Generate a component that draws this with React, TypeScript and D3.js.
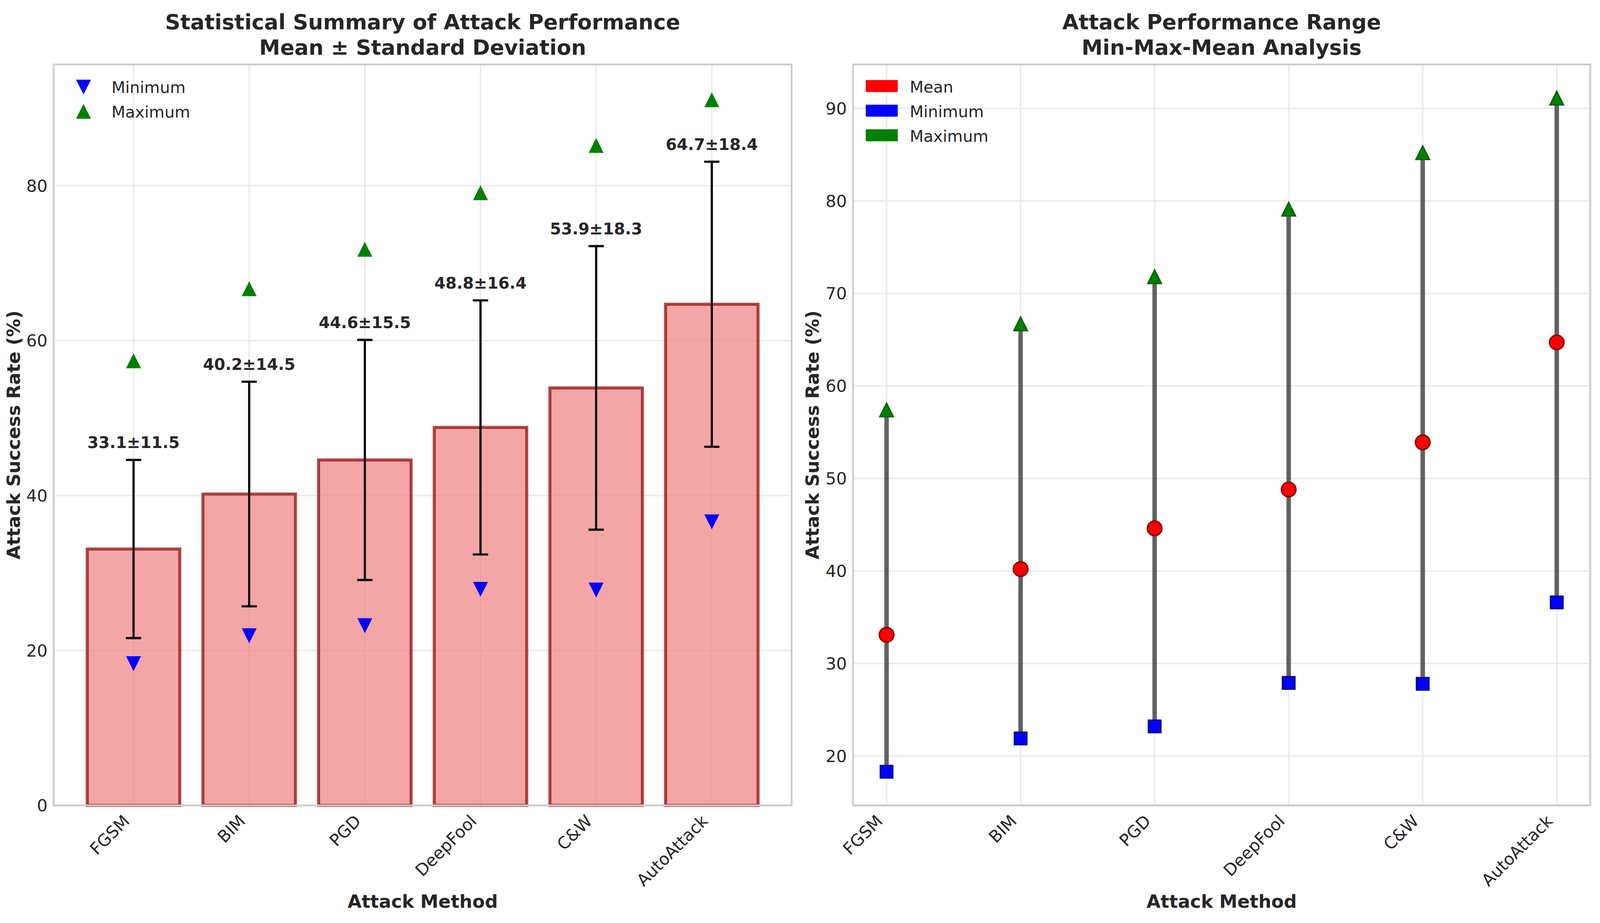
import { useEffect, useState } from 'react';
import * as d3 from 'd3';

const categories = ['FGSM', 'BIM', 'PGD', 'DeepFool', 'C&W', 'AutoAttack'];
const means = [33.1, 40.2, 44.6, 48.8, 53.9, 64.7];
const stds = [11.5, 14.5, 15.5, 16.4, 18.3, 18.4];
const mins = [18.3, 21.9, 23.2, 27.9, 27.8, 36.6];
const maxs = [57.4, 66.7, 71.8, 79.1, 85.2, 91.1];
const leftTicks = [0, 20, 40, 60, 80];
const rightTicks = [20, 30, 40, 50, 60, 70, 80, 90];

// reference layout (px of a 4764x2363 figure), scaled to the real viewport
const W = 4764;
const H = 2363;
const FONT = 'DejaVu Sans, sans-serif';
const TXT = '#262626';
const GRID = '#ebebeb';
const SPINE = '#cccccc';

interface Frame {
  sx: number;
  sy: number;
  k: number;
}

function triUp(cx: number, cy: number, s: number) {
  return `M${cx},${cy - s / 2}L${cx + s / 2},${cy + s / 2}L${cx - s / 2},${cy + s / 2}Z`;
}
function triDown(cx: number, cy: number, s: number) {
  return `M${cx},${cy + s / 2}L${cx + s / 2},${cy - s / 2}L${cx - s / 2},${cy - s / 2}Z`;
}

function Panel({ f, kind }: { f: Frame; kind: 'bar' | 'range' }) {
  const { sx, sy, k } = f;
  const X = (v: number) => v * sx;
  const Y = (v: number) => v * sy;
  const top = Y(165);
  const bottom = Y(2062);
  const left = X(kind === 'bar' ? 160 : 2540);
  const right = X(kind === 'bar' ? 2357 : 4735);
  const mid = (left + right) / 2;

  let xs: number[];
  let y: d3.ScaleLinear<number, number>;
  let ticks: number[];
  let band = 0;
  let xBand: d3.ScaleBand<string> | null = null;

  if (kind === 'bar') {
    xBand = d3.scaleBand<string>().domain(categories).range([left, right]).paddingInner(0.2).paddingOuter(0.29);
    band = xBand.bandwidth();
    xs = categories.map((c) => (xBand!(c) ?? 0) + band / 2);
    y = d3.scaleLinear().domain([0, d3.max(maxs)! * 1.05]).range([bottom, top]);
    ticks = leftTicks;
  } else {
    const lo = d3.min(mins)!;
    const hi = d3.max(maxs)!;
    const pad = (hi - lo) * 0.05;
    const xp = d3.scalePoint<string>().domain(categories).range([left, right]).padding(0.25);
    xs = categories.map((c) => xp(c) ?? 0);
    y = d3.scaleLinear().domain([lo - pad, hi + pad]).range([bottom, top]);
    ticks = rightTicks;
  }

  const gridW = 4 * k;
  const titles =
    kind === 'bar'
      ? ['Statistical Summary of Attack Performance', 'Mean ± Standard Deviation']
      : ['Attack Performance Range', 'Min-Max-Mean Analysis'];
  const yLabelX = kind === 'bar' ? X(160) - 93 * k : X(2540) - 94 * k;

  return (
    <g>
      {/* grid */}
      {ticks.map((t) => (
        <line key={t} x1={left} x2={right} y1={y(t)} y2={y(t)} stroke={GRID} strokeWidth={gridW} />
      ))}
      {xs.map((x, i) => (
        <line key={i} x1={x} x2={x} y1={top} y2={bottom} stroke={GRID} strokeWidth={gridW} />
      ))}

      {kind === 'bar' && xBand && (
        <g>
          {categories.map((c, i) => (
            <rect
              key={c}
              x={xBand!(c)}
              y={y(means[i])}
              width={band}
              height={y(0) - y(means[i])}
              fill="#F08080"
              fillOpacity={0.7}
              stroke="#8B0000"
              strokeOpacity={0.7}
              strokeWidth={8.3 * k}
            />
          ))}
          {categories.map((c, i) => {
            const x = xs[i];
            const y1 = y(means[i] - stds[i]);
            const y2 = y(means[i] + stds[i]);
            const cap = 21 * k;
            return (
              <g key={c} stroke="#000" strokeWidth={6 * k}>
                <line x1={x} x2={x} y1={y1} y2={y2} />
                <line x1={x - cap} x2={x + cap} y1={y1} y2={y1} />
                <line x1={x - cap} x2={x + cap} y1={y2} y2={y2} />
              </g>
            );
          })}
          {categories.map((c, i) => (
            <g key={c}>
              <path d={triDown(xs[i], y(mins[i]), 41 * k)} fill="#0000ff" />
              <path d={triUp(xs[i], y(maxs[i]), 41 * k)} fill="#008000" />
            </g>
          ))}
          {categories.map((c, i) => (
            <text
              key={c}
              x={xs[i]}
              y={y(means[i] + stds[i] + 1) - 11 * k}
              textAnchor="middle"
              fontSize={44 * k}
              fontWeight="bold"
              fill={TXT}
            >
              {`${means[i].toFixed(1)}±${stds[i].toFixed(1)}`}
            </text>
          ))}
        </g>
      )}

      {kind === 'range' && (
        <g>
          {categories.map((c, i) => (
            <line
              key={c}
              x1={xs[i]}
              x2={xs[i]}
              y1={y(mins[i])}
              y2={y(maxs[i])}
              stroke="#000"
              strokeOpacity={0.6}
              strokeWidth={12.5 * k}
            />
          ))}
          {categories.map((c, i) => (
            <g key={c}>
              <rect
                x={xs[i] - 17 * k}
                y={y(mins[i]) - 17 * k}
                width={34 * k}
                height={34 * k}
                fill="#0000ff"
                stroke="#00008B"
                strokeWidth={4 * k}
              />
              <path d={triUp(xs[i], y(maxs[i]), 37 * k)} fill="#008000" stroke="#006400" strokeWidth={4 * k} />
              <circle cx={xs[i]} cy={y(means[i])} r={20 * k} fill="#ff0000" stroke="#8B0000" strokeWidth={4 * k} />
            </g>
          ))}
        </g>
      )}

      {/* frame */}
      <rect x={left} y={top} width={right - left} height={bottom - top} fill="none" stroke={SPINE} strokeWidth={5 * k} />

      {/* y ticks */}
      {ticks.map((t) => (
        <text key={t} x={left - 17 * k} y={y(t)} dy="0.36em" textAnchor="end" fontSize={46 * k} fill={TXT}>
          {t}
        </text>
      ))}
      {/* x ticks */}
      {categories.map((c, i) => (
        <text
          key={c}
          transform={`translate(${xs[i] - 8 * k},${bottom + 46 * k}) rotate(-45)`}
          textAnchor="end"
          fontSize={46 * k}
          fill={TXT}
        >
          {c}
        </text>
      ))}

      {/* legend */}
      {kind === 'bar' ? (
        <g>
          <path d={triDown(left + 82 * k, Y(223), 41 * k)} fill="#0000ff" />
          <text x={left + 159 * k} y={Y(238)} fontSize={44 * k} fill={TXT}>Minimum</text>
          <path d={triUp(left + 82 * k, Y(285), 41 * k)} fill="#008000" />
          <text x={left + 159 * k} y={Y(301)} fontSize={44 * k} fill={TXT}>Maximum</text>
        </g>
      ) : (
        <g>
          {[
            { label: 'Mean', color: '#ff0000' },
            { label: 'Minimum', color: '#0000ff' },
            { label: 'Maximum', color: '#008000' },
          ].map((d, i) => (
            <g key={d.label}>
              <rect x={left + 35 * k} y={Y(205 + i * 63)} width={88 * k} height={33 * k} fill={d.color} />
              <text x={left + 156 * k} y={Y(237 + i * 63)} fontSize={44 * k} fill={TXT}>
                {d.label}
              </text>
            </g>
          ))}
        </g>
      )}

      {/* titles and axis labels */}
      <text x={mid} y={Y(75)} textAnchor="middle" fontSize={58 * k} fontWeight="bold" fill={TXT}>
        {titles[0]}
      </text>
      <text x={mid} y={Y(140)} textAnchor="middle" fontSize={58 * k} fontWeight="bold" fill={TXT}>
        {titles[1]}
      </text>
      <text x={mid} y={Y(2324)} textAnchor="middle" fontSize={50 * k} fontWeight="bold" fill={TXT}>
        Attack Method
      </text>
      <text
        transform={`translate(${yLabelX},${(top + bottom) / 2}) rotate(-90)`}
        textAnchor="middle"
        fontSize={50 * k}
        fontWeight="bold"
        fill={TXT}
      >
        Attack Success Rate (%)
      </text>
    </g>
  );
}

function readSize() {
  if (typeof window === 'undefined') return { w: W, h: H };
  return { w: window.innerWidth || W, h: window.innerHeight || H };
}

export default function App() {
  const [size, setSize] = useState(readSize);

  useEffect(() => {
    const onResize = () => setSize(readSize());
    window.addEventListener('resize', onResize);
    return () => window.removeEventListener('resize', onResize);
  }, []);

  const sx = size.w / W;
  const sy = size.h / H;
  const f: Frame = { sx, sy, k: Math.min(sx, sy) * 0.5 + Math.max(sx, sy) * 0.5 };

  return (
    <svg
      width={size.w}
      height={size.h}
      style={{ position: 'absolute', left: 0, top: 0, display: 'block', background: '#fff' }}
      fontFamily={FONT}
    >
      <rect width={size.w} height={size.h} fill="#fff" />
      <Panel f={f} kind="bar" />
      <Panel f={f} kind="range" />
    </svg>
  );
}
